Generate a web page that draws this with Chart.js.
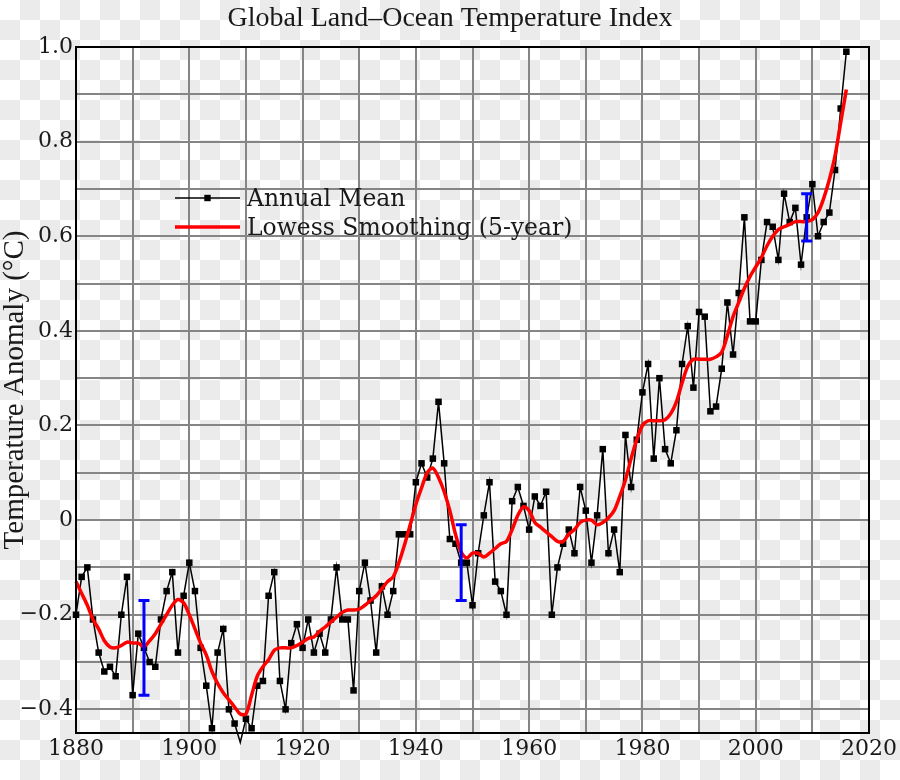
<!DOCTYPE html>
<html>
<head>
<meta charset="utf-8">
<script src="https://cdn.jsdelivr.net/npm/chart.js@4.4.1/dist/chart.umd.min.js"></script>
<style>
  html, body { margin:0; padding:0; }
  body {
    width:900px; height:780px; overflow:hidden;
    background: repeating-conic-gradient(#ebebeb 0 25%, #ffffff 0 50%) 0 0 / 40px 40px;
  }
  canvas { display:block; }
</style>
</head>
<body>
<canvas id="c" width="900" height="780"></canvas>
<script>
const years = [];
for (let y = 1880; y <= 2016; y++) years.push(y);

const annualMean = [
  -0.20,-0.12,-0.10,-0.21,-0.28,-0.32,-0.31,-0.33,-0.20,-0.12,
  -0.37,-0.24,-0.27,-0.30,-0.31,-0.21,-0.15,-0.11,-0.28,-0.16,
  -0.09,-0.15,-0.27,-0.35,-0.44,-0.28,-0.23,-0.40,-0.43,-0.47,
  -0.42,-0.44,-0.35,-0.34,-0.16,-0.11,-0.34,-0.40,-0.26,-0.22,
  -0.27,-0.21,-0.28,-0.24,-0.28,-0.21,-0.10,-0.21,-0.21,-0.36,
  -0.15,-0.09,-0.17,-0.28,-0.14,-0.20,-0.15,-0.03,-0.03,-0.03,
   0.08, 0.12, 0.09, 0.13, 0.25, 0.12,-0.04,-0.05,-0.09,-0.09,
  -0.18,-0.07, 0.01, 0.08,-0.13,-0.15,-0.20, 0.04, 0.07, 0.03,
  -0.02, 0.05, 0.03, 0.06,-0.20,-0.10,-0.05,-0.02,-0.07, 0.07,
   0.02,-0.09, 0.01, 0.15,-0.07,-0.02,-0.11, 0.18, 0.07, 0.17,
   0.27, 0.33, 0.13, 0.30, 0.15, 0.12, 0.19, 0.33, 0.41, 0.28,
   0.44, 0.43, 0.23, 0.24, 0.32, 0.46, 0.35, 0.48, 0.64, 0.42,
   0.42, 0.55, 0.63, 0.62, 0.55, 0.69, 0.63, 0.66, 0.54, 0.64,
   0.71, 0.60, 0.63, 0.65, 0.74, 0.87, 0.99
];

const lowessSmooth = [
  -0.130,-0.155,-0.180,-0.210,-0.230,-0.255,-0.268,-0.270,-0.265,-0.258,
  -0.260,-0.260,-0.267,-0.255,-0.240,-0.220,-0.200,-0.180,-0.168,-0.175,
  -0.200,-0.230,-0.260,-0.285,-0.320,-0.345,-0.365,-0.380,-0.395,-0.410,
  -0.410,-0.370,-0.330,-0.310,-0.295,-0.275,-0.270,-0.270,-0.270,-0.265,
  -0.258,-0.250,-0.247,-0.235,-0.226,-0.215,-0.205,-0.195,-0.190,-0.190,
  -0.188,-0.180,-0.170,-0.160,-0.145,-0.130,-0.120,-0.090,-0.052,-0.010,
   0.033, 0.068, 0.100, 0.110, 0.090, 0.060, 0.020,-0.030,-0.068,-0.080,
  -0.070,-0.070,-0.078,-0.070,-0.060,-0.050,-0.045,-0.020, 0.010, 0.028,
   0.020,-0.005,-0.015,-0.025,-0.035,-0.045,-0.045,-0.030,-0.020,-0.005,
   0.000, 0.000,-0.010,-0.005, 0.005, 0.020, 0.050, 0.085, 0.130, 0.170,
   0.200, 0.210, 0.210, 0.210, 0.212, 0.225, 0.250, 0.290, 0.325, 0.340,
   0.340, 0.340, 0.340, 0.345, 0.355, 0.390, 0.430, 0.460, 0.490, 0.515,
   0.535, 0.555, 0.580, 0.600, 0.614, 0.620, 0.625, 0.631, 0.631, 0.631,
   0.635, 0.650, 0.680, 0.720, 0.770, 0.840, 0.910
];

// uncertainty bars
const errYears = [1892, 1948, 2009];
const errLow   = [-0.37, -0.17, 0.59];
const errHigh  = [-0.17, -0.01, 0.69];

// y grid values (every 0.1) and x grid step
const yGridValues = [-0.4,-0.3,-0.2,-0.1,0,0.1,0.2,0.3,0.4,0.5,0.6,0.7,0.8,0.9,1.0];
const xTickStep = 10;
const xLabelStep = 20;

const titleText = 'Global Land\u2013Ocean Temperature Index';
const yTitleText = 'Temperature Anomaly (\u00B0C)';

const FONT = 'DejaVu Serif';
const TFONT = 'Liberation Serif';
const TEXT = '#1a1a1a';

const boxPlugin = {
  id: 'box',
  afterDatasetsDraw(chart) {
    const {ctx, scales} = chart;
    ctx.save();
    ctx.strokeStyle = '#0000ff';
    ctx.lineWidth = 3;
    ctx.lineCap = 'butt';
    for (let i = 0; i < errYears.length; i++) {
      const x = scales.x.getPixelForValue(errYears[i]);
      const yt = scales.y.getPixelForValue(errHigh[i]);
      const yb = scales.y.getPixelForValue(errLow[i]);
      ctx.beginPath();
      ctx.moveTo(x, yt); ctx.lineTo(x, yb);
      ctx.moveTo(x - 5.5, yt); ctx.lineTo(x + 5.5, yt);
      ctx.moveTo(x - 5.5, yb); ctx.lineTo(x + 5.5, yb);
      ctx.stroke();
    }
    ctx.restore();
  },
  afterDraw(chart) {
    const {ctx, chartArea: ca} = chart;
    ctx.save();
    ctx.strokeStyle = '#000';
    ctx.lineWidth = 2;
    ctx.strokeRect(ca.left, ca.top, ca.right - ca.left, ca.bottom - ca.top);
    // legend
    const ds = chart.data.datasets;
    const lx0 = ca.left + 99, lx1 = ca.left + 164;
    const ly1 = ca.top + 151, ly2 = ca.top + 180;
    ctx.strokeStyle = '#000';
    ctx.lineWidth = 1.5;
    ctx.beginPath(); ctx.moveTo(lx0, ly1); ctx.lineTo(lx1, ly1); ctx.stroke();
    ctx.fillStyle = '#000';
    ctx.fillRect((lx0 + lx1) / 2 - 3.2, ly1 - 3.2, 6.4, 6.4);
    ctx.strokeStyle = '#ff0000';
    ctx.lineWidth = 3.5;
    ctx.beginPath(); ctx.moveTo(lx0, ly2); ctx.lineTo(lx1, ly2); ctx.stroke();
    ctx.fillStyle = TEXT;
    ctx.font = '23.5px "' + FONT + '"';
    ctx.textBaseline = 'alphabetic';
    ctx.textAlign = 'left';
    ctx.fillText(ds[1].label, lx1 + 7, ly1 + 7.5);
    ctx.fillText(ds[0].label, lx1 + 7, ly2 + 7.5);
    ctx.restore();
  }
};

function yLabel(v) {
  const r5 = v * 5;
  if (Math.abs(r5 - Math.round(r5)) > 1e-6) return '';
  const r = Math.round(v * 10) / 10;
  if (r === 0) return '0';
  return (r < 0 ? '\u2212' : '') + Math.abs(r).toFixed(1);
}

new Chart(document.getElementById('c'), {
  type: 'line',
  data: {
    datasets: [
      {
        label: 'Lowess Smoothing (5-year)',
        data: years.map((y, i) => ({x: y, y: lowessSmooth[i]})),
        borderColor: '#ff0000',
        borderWidth: 3.5,
        pointRadius: 0,
        tension: 0.3,
        clip: false,
        order: 1
      },
      {
        label: 'Annual Mean',
        data: years.map((y, i) => ({x: y, y: annualMean[i]})),
        borderColor: '#000000',
        borderWidth: 1.5,
        pointStyle: 'rect',
        pointRadius: 4.6,
        pointBackgroundColor: '#000000',
        pointBorderWidth: 0,
        tension: 0,
        clip: false,
        order: 2
      }
    ]
  },
  options: {
    responsive: false,
    animation: false,
    layout: { padding: 0 },
    plugins: {
      legend: { display: false },
      tooltip: { enabled: false },
      title: {
        display: true,
        text: titleText,
        color: TEXT,
        font: { family: TFONT, size: 28, weight: 'normal', lineHeight: 1 },
        padding: { top: 5, bottom: 14 }
      }
    },
    scales: {
      x: {
        type: 'linear',
        min: 1880, max: 2020,
        ticks: {
          stepSize: xTickStep,
          autoSkip: false,
          maxRotation: 0,
          padding: 3,
          color: TEXT,
          font: { family: FONT, size: 22 },
          callback: v => (Math.round(v) % xLabelStep === 0 ? String(Math.round(v)) : '')
        },
        grid: { color: '#858585', lineWidth: 2, drawTicks: false },
        border: { color: '#000', width: 2 },
        afterFit(s) { s.height = 47; }
      },
      y: {
        min: -0.45, max: 1.0,
        afterBuildTicks(s) { s.ticks = yGridValues.map(v => ({ value: v })); },
        ticks: {
          autoSkip: false,
          padding: 3,
          color: TEXT,
          font: { family: FONT, size: 22 },
          callback: v => yLabel(v)
        },
        grid: { color: '#858585', lineWidth: 2, drawTicks: false },
        border: { color: '#000', width: 2 },
        title: {
          display: true,
          text: yTitleText,
          color: TEXT,
          font: { family: TFONT, size: 29, weight: 'normal', lineHeight: 1 },
          padding: { top: 1, bottom: 0 }
        },
        afterFit(s) { s.width = 76; }
      },
      yRight: {
        position: 'right',
        min: -0.45, max: 1.0,
        ticks: { display: false },
        grid: { display: false, drawOnChartArea: false, drawTicks: false },
        border: { display: false },
        afterFit(s) { s.width = 29; }
      }
    }
  },
  plugins: [boxPlugin]
});
</script>
</body>
</html>
